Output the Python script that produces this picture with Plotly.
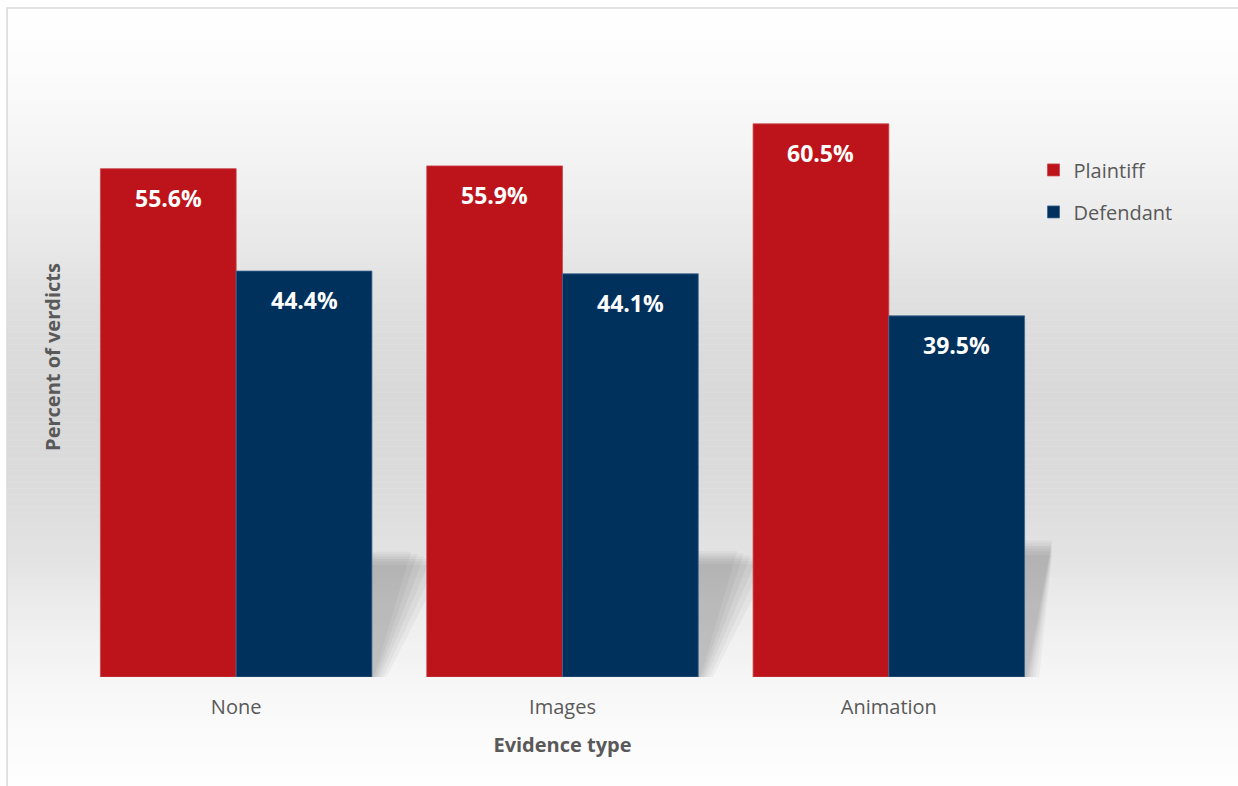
import plotly.graph_objects as go

# ---- data -------------------------------------------------------------
categories = ["None", "Images", "Animation"]
plaintiff = [55.6, 55.9, 60.5]
defendant = [44.4, 44.1, 39.5]

# ---- style ------------------------------------------------------------
RED = "#BC141A"
BLUE = "#00305C"
TEXT_GREY = "#595959"
FONT = "Open Sans"

W, H = 1238, 786
M_L, M_R, M_T, M_B = 72.5, 185.5, 36.5, 109
PW = W - M_L - M_R
PH = H - M_T - M_B
Y_MAX = 70
BAR_GAP = 0.168


def px_x(px):
    """Pixel x -> paper x."""
    return (px - M_L) / PW


def px_y(py):
    """Pixel y (from top) -> paper y."""
    return 1 - (py - M_T) / PH


fig = go.Figure()

half = (1 - BAR_GAP) / 2
x_pos = list(range(len(categories)))

fig.add_trace(go.Bar(
    x=x_pos, y=plaintiff, name="Plaintiff", legendgroup="p",
    marker=dict(color=RED, line=dict(color="#C9474C", width=0.8)),
))
fig.add_trace(go.Bar(
    x=x_pos, y=defendant, name="Defendant", legendgroup="d",
    marker=dict(color=BLUE, line=dict(color="#3E6690", width=0.8)),
))

# value labels near the top of each bar
for i in x_pos:
    for off, vals in ((-half / 2, plaintiff), (half / 2, defendant)):
        fig.add_annotation(
            x=i + off, y=vals[i], text=f"{vals[i]:.1f}%",
            showarrow=False, yanchor="middle", yshift=-29,
            font=dict(family=FONT, size=23, color="white", weight="bold"),
        )

# vertical background gradient (white -> grey -> white)
stops = [(8, 255), (80, 251), (150, 244), (230, 234), (310, 222), (390, 217),
         (450, 218), (500, 221), (550, 226), (600, 235), (650, 242),
         (680, 246), (720, 250), (786, 254)]


def grey_at(py):
    for (y0, g0), (y1, g1) in zip(stops, stops[1:]):
        if y0 <= py <= y1:
            return g0 + (g1 - g0) * (py - y0) / (y1 - y0)
    return stops[-1][1]


shapes = []
step = 6
py = 8
while py < H:
    g = round(grey_at(py + step / 2))
    shapes.append(dict(
        type="rect", xref="paper", yref="paper", layer="below",
        x0=px_x(6.5), x1=px_x(W + 2), y0=px_y(py), y1=px_y(py + step + 0.5),
        fillcolor=f"rgb({g},{g},{g})", line=dict(width=0),
    ))
    py += step

# soft perspective shadow cast behind each bar group (stacked faint layers
# give a blurred edge)
layers = [
    # (top shift, bottom shift, height factor, alpha)
    (0.22, 0.045, 0.93, 0.035),
    (0.20, 0.035, 0.96, 0.035),
    (0.18, 0.025, 0.98, 0.04),
    (0.16, 0.018, 1.00, 0.04),
    (0.14, 0.012, 1.02, 0.04),
    (0.12, 0.006, 1.04, 0.035),
]
for i in x_pos:
    h = 0.237 * max(plaintiff[i], defendant[i])
    right = i + half
    left = i - half
    for top_dx, bot_dx, hf, alpha in layers:
        x_right_top = min(right + top_dx, 2.5)
        path = (f"M{left},0 L{right + bot_dx},0 L{x_right_top},{h * hf} "
                f"L{left + top_dx},{h * hf} Z")
        shapes.append(dict(
            type="path", xref="x", yref="y", layer="below", path=path,
            fillcolor=f"rgba(0,0,0,{alpha})", line=dict(width=0),
        ))

# chart frame
shapes.append(dict(
    type="rect", xref="paper", yref="paper", layer="above",
    x0=px_x(6.5), x1=px_x(W + 5), y0=px_y(7.5), y1=px_y(H + 5),
    fillcolor="rgba(0,0,0,0)", line=dict(color="#D9D9D9", width=1.5),
))

fig.update_layout(
    width=W, height=H,
    margin=dict(l=M_L, r=M_R, t=M_T, b=M_B, autoexpand=False),
    paper_bgcolor="white", plot_bgcolor="rgba(0,0,0,0)",
    barmode="group", bargap=BAR_GAP, bargroupgap=0,
    shapes=shapes,
    font=dict(family=FONT, color=TEXT_GREY, size=20),
    showlegend=True,
    legend=dict(
        x=px_x(1034), y=px_y(150), xanchor="left", yanchor="top",
        bgcolor="rgba(0,0,0,0)", tracegroupgap=13, traceorder="grouped",
        font=dict(family=FONT, size=20, color=TEXT_GREY),
    ),
    xaxis=dict(
        range=[-0.5, 2.5], tickvals=x_pos, ticktext=categories,
        showgrid=False, zeroline=False, showline=False, ticks="",
        ticklabelstandoff=16,
        tickfont=dict(family=FONT, size=20, color=TEXT_GREY),
        title=dict(text="Evidence type", standoff=18,
                   font=dict(family=FONT, size=20, color=TEXT_GREY, weight="bold")),
    ),
    yaxis=dict(
        range=[0, Y_MAX], showgrid=False, zeroline=False, showline=False,
        showticklabels=False, ticks="",
        title=dict(text="Percent of verdicts", standoff=6,
                   font=dict(family=FONT, size=20, color=TEXT_GREY, weight="bold")),
    ),
)

fig.write_html("out.html")
